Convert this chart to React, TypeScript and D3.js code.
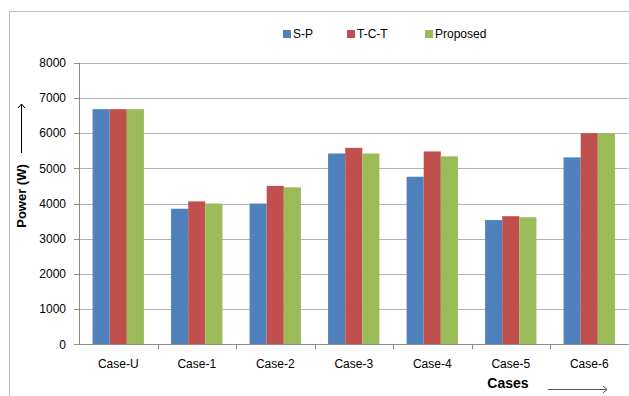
import React from "react";
import * as d3 from "d3";

const categories = ["Case-U", "Case-1", "Case-2", "Case-3", "Case-4", "Case-5", "Case-6"];
const seriesNames = ["S-P", "T-C-T", "Proposed"];
const spValues = [6680, 3850, 4000, 5420, 4760, 3530, 5310];
const tctValues = [6680, 4060, 4500, 5580, 5480, 3640, 6000];
const proposedValues = [6680, 4000, 4460, 5420, 5340, 3610, 6000];
const yTicks = [0, 1000, 2000, 3000, 4000, 5000, 6000, 7000, 8000];
const colors = ["#4F81BD", "#C0504D", "#9BBB59"];

const W = 629;
const H = 396;
const M = { left: 79, right: 628.5, top: 62.7, bottom: 344.3 };
const FONT = "'Liberation Sans', Arial, sans-serif";

export default function App() {
  const seriesValues = [spValues, tctValues, proposedValues];
  const x = d3.scaleBand<string>().domain(categories).range([M.left, M.right]).padding(0);
  const y = d3.scaleLinear().domain([0, 8000]).range([M.bottom, M.top]);
  const groupW = x.bandwidth() * 0.654;
  const inner = d3.scaleBand<string>().domain(seriesNames).range([0, groupW]).padding(0);

  const legendX = [283, 347, 425];

  return (
    <svg
      width={W}
      height={H}
      style={{ position: "absolute", left: 0, top: 0, background: "#fff" }}
      fontFamily={FONT}
    >
      {/* chart frame */}
      <rect x={9.5} y={11.5} width={W + 10} height={H + 10} fill="none" stroke="#bdbdbd" strokeWidth={1} />

      {/* gridlines */}
      {yTicks.map((t) => (
        <line
          key={"g" + t}
          x1={M.left}
          x2={M.right}
          y1={Math.round(y(t)) + 0.5}
          y2={Math.round(y(t)) + 0.5}
          stroke="#b3b3b3"
          strokeWidth={1}
        />
      ))}

      {/* bars */}
      {categories.map((c, i) => {
        const gx = (x(c) as number) + (x.bandwidth() - groupW) / 2;
        return seriesNames.map((s, j) => {
          const v = seriesValues[j][i];
          return (
            <rect
              key={c + s}
              x={gx + (inner(s) as number)}
              y={y(v)}
              width={inner.bandwidth()}
              height={y(0) - y(v)}
              fill={colors[j]}
            />
          );
        });
      })}

      {/* y axis */}
      <line x1={M.left + 0.5} x2={M.left + 0.5} y1={M.top} y2={M.bottom} stroke="#8c8c8c" />
      {yTicks.map((t) => (
        <g key={"t" + t}>
          <line
            x1={M.left - 5}
            x2={M.left}
            y1={Math.round(y(t)) + 0.5}
            y2={Math.round(y(t)) + 0.5}
            stroke="#8c8c8c"
          />
          <text x={66} y={y(t)} dy="0.35em" textAnchor="end" fontSize={12} fill="#000">
            {t}
          </text>
        </g>
      ))}

      {/* x axis */}
      <line x1={M.left} x2={M.right} y1={Math.round(M.bottom) + 0.5} y2={Math.round(M.bottom) + 0.5} stroke="#8c8c8c" />
      {categories.map((c, i) => (
        <g key={"x" + c}>
          <line
            x1={Math.round((x(c) as number) + x.bandwidth()) + 0.5}
            x2={Math.round((x(c) as number) + x.bandwidth()) + 0.5}
            y1={M.bottom}
            y2={M.bottom + 5}
            stroke="#8c8c8c"
          />
          <text
            x={(x(c) as number) + x.bandwidth() / 2}
            y={364}
            dy="0.35em"
            textAnchor="middle"
            fontSize={12}
            fill="#000"
          >
            {c}
          </text>
        </g>
      ))}

      {/* axis titles */}
      <g transform="translate(21,196) rotate(-90)">
        <text x={0} y={0} dy="0.35em" textAnchor="middle" fontSize={13} fontWeight="bold" fill="#000">
          Power (W)
        </text>
      </g>
      <line x1={21.5} x2={21.5} y1={153} y2={104} stroke="#000" strokeWidth={1} />
      <path d="M18,108 L21.5,104 L25,108" fill="none" stroke="#000" strokeWidth={1} />

      <text x={508} y={383} dy="0.35em" textAnchor="middle" fontSize={14} fontWeight="bold" fill="#000">
        Cases
      </text>
      <line x1={548} x2={607} y1={389.5} y2={389.5} stroke="#555" strokeWidth={1} />
      <path d="M603,386 L607,389.5 L603,393" fill="none" stroke="#555" strokeWidth={1} />

      {/* legend */}
      {seriesNames.map((s, j) => (
        <g key={"l" + s}>
          <rect x={legendX[j]} y={30} width={8} height={8} fill={colors[j]} />
          <text x={legendX[j] + 10} y={34} dy="0.35em" fontSize={12} fill="#000">
            {s}
          </text>
        </g>
      ))}
    </svg>
  );
}
